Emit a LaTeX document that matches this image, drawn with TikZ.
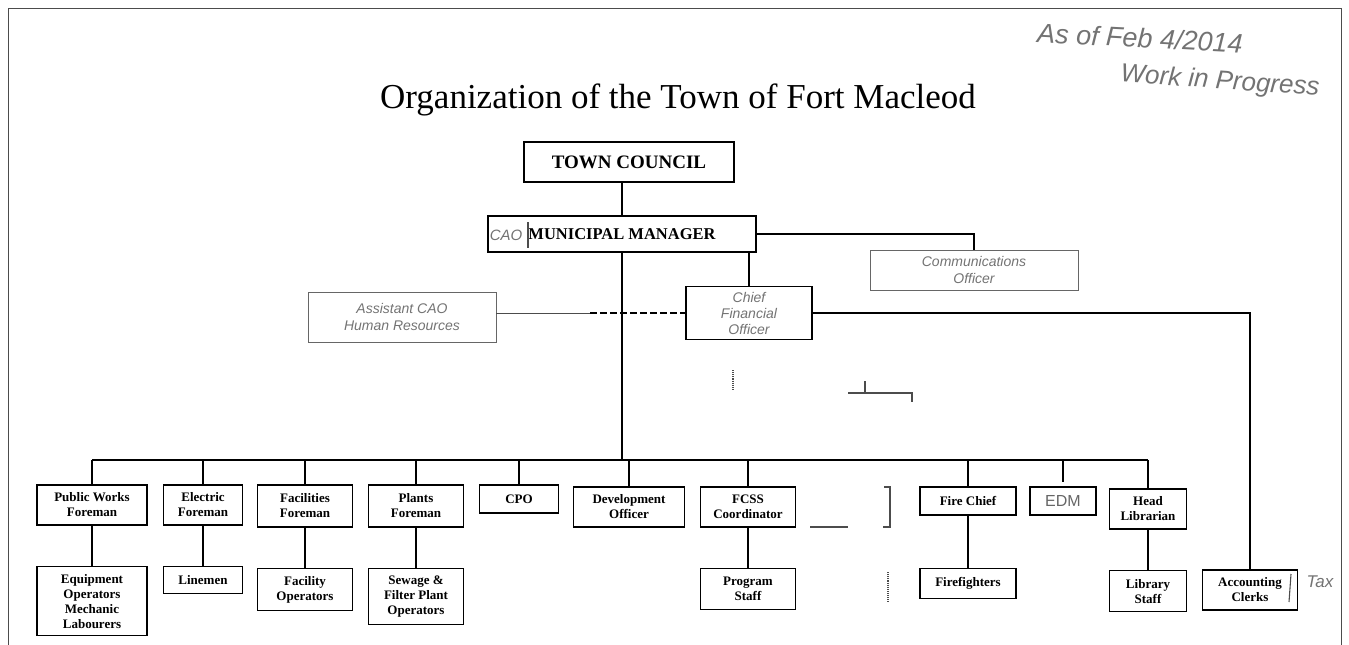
\documentclass[tikz,border=0pt]{standalone}
\usepackage{fontspec}
\setmainfont{Liberation Serif}
\newfontfamily\handfont{Liberation Sans}
\usetikzlibrary{positioning, calc}
\tikzset{
    node distance=40pt, % gap between a foreman and his crew
    box/.style 2 args={ % printed boxes
        draw, line width=1.6pt,
        minimum width=#1, minimum height=#2,
        inner sep=1pt, align=center,
        font=\bfseries\fontsize{13}{15}\selectfont
    },
    hbox/.style 2 args={ % pencilled boxes
        draw=black!60, line width=0.9pt,
        minimum width=#1, minimum height=#2,
        inner sep=1pt, align=center, text=black!55,
        font=\handfont\itshape\fontsize{14}{17}\selectfont
    },
    hand/.style={ % pencilled notes
        text=black!55,
        font=\handfont\itshape\fontsize{15}{17}\selectfont
    },
    link/.style={line width=1.3pt},
    ghost/.style={line width=1.1pt, black!70}, % rubbed out leftovers
}

\begin{document}
\begin{tikzpicture}[x=1pt, y=-1pt]
    \useasboundingbox (0,0) rectangle (1349,645);
    \draw[line width=1pt, black!70] (8,645) -- (8,8) -- (1341,8) -- (1341,645);

    \node[font=\fontsize{35}{40}\selectfont] (title) at (678,100) {Organization of the Town of Fort Macleod};
    \node[hand, font=\handfont\itshape\fontsize{27}{30}\selectfont, rotate=-3] (asof) at (1140,38) {As of Feb 4/2014};
    \node[hand, font=\handfont\itshape\fontsize{26}{30}\selectfont, rotate=-4] (wip) at (1220,82) {Work in Progress};

    % top of the tree
    \node[box={210pt}{40pt}, font=\bfseries\fontsize{19}{21}\selectfont] (tc) at (629,162) {TOWN COUNCIL};
    \node[box={268pt}{36pt}, font=\bfseries\fontsize{16.5}{18}\selectfont] (mm) at (622,234) {MUNICIPAL MANAGER};
    \node[hand] (cao) at (506,235) {CAO};
    \draw[ghost] (528,222) -- (528,248);

    \node[box={126pt}{53pt}, text=black!55, font=\handfont\itshape\fontsize{14}{16}\selectfont] (cfo) at (749,313) {Chief\\Financial\\Officer};
    \node[hbox={188pt}{50pt}] (asst) at (402,317) {Assistant CAO\\Human Resources};
    \node[hbox={208pt}{40pt}] (comm) at (974,270) {Communications\\Officer};
    \node[box={95pt}{40pt}] (acc) at (1250,590) {Accounting\\Clerks};
    \draw[ghost] (1291,574) -- (1289,602);
    \node[hand, font=\handfont\itshape\fontsize{17}{19}\selectfont] (tax) at (1320,582) {Tax};

    % department heads
    \node[box={110pt}{40pt}] (pwf)  at (92,505)   {Public Works\\Foreman};
    \node[box={79pt}{40pt}]  (elec) at (203,505)  {Electric\\Foreman};
    \node[box={95pt}{42pt}]  (facf) at (305,506)  {Facilities\\Foreman};
    \node[box={95pt}{42pt}]  (plf)  at (416,506)  {Plants\\Foreman};
    \node[box={79pt}{28pt}]  (cpo)  at (519,499)  {CPO};
    \node[box={111pt}{40pt}] (dev)  at (629,507)  {Development\\Officer};
    \node[box={95pt}{40pt}]  (fcss) at (748,507)  {FCSS\\Coordinator};
    \node[box={96pt}{28pt}]  (fire) at (968,501)  {Fire Chief};
    \node[box={66pt}{28pt}, line width=1.3pt, text=black!60, font=\handfont\fontsize{16}{18}\selectfont] (edm) at (1063,501) {EDM};
    \node[box={77pt}{40pt}]  (lib)  at (1148,509) {Head\\Librarian};

    % staff
    \node[box={110pt}{69pt}, below=of pwf]  (equip)  {Equipment\\Operators\\Mechanic\\Labourers};
    \node[box={79pt}{27pt},  below=of elec] (line)   {Linemen};
    \node[box={95pt}{42pt},  below=of facf] (facop)  {Facility\\Operators};
    \node[box={95pt}{56pt},  below=of plf]  (sewage) {Sewage \&\\Filter Plant\\Operators};
    \node[box={95pt}{41pt},  below=of fcss] (prog)   {Program\\Staff};
    \node[box={96pt}{30pt},  below=52pt of fire] (ffight) {Firefighters};
    \node[box={77pt}{41pt},  below=of lib]  (libst)  {Library\\Staff};

    \coordinate (bus) at (0,460);
    \coordinate (split) at (590,0);

    \draw[link] (tc.south -| mm.north) -- (mm.north)
                (mm.south) -- (mm.south |- bus)
                (mm.east) -- (mm.east -| comm.north) -- (comm.north)
                (cfo.north |- mm.south) -- (cfo.north)
                (cfo.east) -- (cfo.east -| acc.north) -- (acc.north)
                (pwf.north |- bus) -- (lib.north |- bus)
                (edm.north |- bus) -- ++(0,22);
    \draw[line width=0.8pt, black!70] (asst.east |- cfo.west) -- (split |- cfo.west);
    \draw[link, dash pattern=on 7pt off 3pt] (split |- cfo.west) -- (cfo.west);

    \foreach \head/\crew in {pwf/equip, elec/line, facf/facop, plf/sewage, fcss/prog, fire/ffight, lib/libst}
        \draw[link] (\head.north |- bus) -- (\head.north) (\head.south) -- (\crew.north);
    \foreach \head in {cpo, dev}
        \draw[link] (\head.north |- bus) -- (\head.north);

    % bits left after rubbing out
    \draw[ghost, densely dotted] (733,370) -- (733,390);
    \draw[ghost] (865,381) -- (865,393) (848,393) -- (912,393) -- (912,402);
    \draw[ghost] (810,527) -- (848,527) (884,487) -- (890,487) -- (890,527) -- (883,527);
    \draw[ghost, densely dotted] (888,572) -- (888,602);
\end{tikzpicture}
\end{document}
